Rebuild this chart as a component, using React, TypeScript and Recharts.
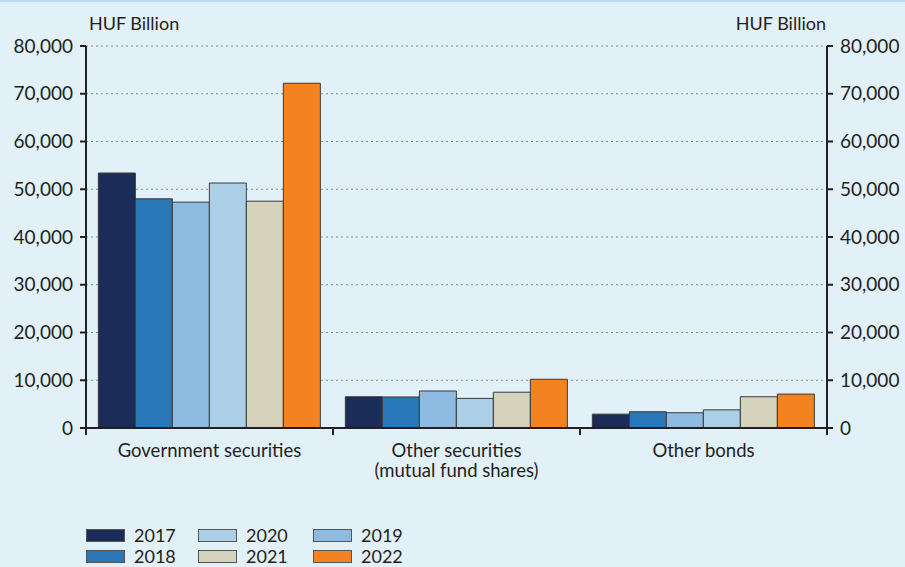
import { BarChart, Bar, XAxis, YAxis, CartesianGrid } from 'recharts'

const categories = ['Government securities', 'Other securities\n(mutual fund shares)', 'Other bonds']
const years = ['2017', '2018', '2019', '2020', '2021', '2022']
const values2017 = [53400, 6550, 2900]
const values2018 = [48000, 6500, 3400]
const values2019 = [47300, 7750, 3200]
const values2020 = [51300, 6200, 3800]
const values2021 = [47500, 7500, 6550]
const values2022 = [72200, 10200, 7100]
const yTicks = [0, 10000, 20000, 30000, 40000, 50000, 60000, 70000, 80000]
const legendOrder = ['2017', '2020', '2019', '2018', '2021', '2022']

const colors: Record<string, string> = {
  '2017': '#1b2c58',
  '2018': '#2878b8',
  '2019': '#8dbbe1',
  '2020': '#abcfe7',
  '2021': '#d5d3bb',
  '2022': '#f38321',
}

const seriesValues: Record<string, number[]> = {
  '2017': values2017,
  '2018': values2018,
  '2019': values2019,
  '2020': values2020,
  '2021': values2021,
  '2022': values2022,
}

const data = categories.map((name, i) => {
  const row: Record<string, string | number> = { name }
  years.forEach((y) => (row[y] = seriesValues[y][i]))
  return row
})

const FONT = 'Lato, "Open Sans", sans-serif'
const INK = '#231f20'
const fmt = (v: number) => v.toLocaleString('en-US')

const CategoryTick = (props: any) => {
  const { x, y, payload, index } = props
  const half = payload?.offset ?? 0
  const lines = String(payload.value).split('\n')
  return (
    <g>
      <line x1={x - half} x2={x - half} y1={y - 8} y2={y - 1} stroke={INK} strokeWidth={2} />
      {index === categories.length - 1 && (
        <line x1={x + half} x2={x + half} y1={y - 8} y2={y - 1} stroke={INK} strokeWidth={2} />
      )}
      {lines.map((l, i) => (
        <text key={i} x={x} y={y + 21 + i * 20} textAnchor="middle" fontSize={18.5} fill={INK} fontFamily={FONT}>
          {l}
        </text>
      ))}
    </g>
  )
}

export default function App() {
  return (
    <div style={{ position: 'absolute', left: 0, top: 0, width: 905, height: 567, background: '#e2f0f8', fontFamily: FONT }}>
      <div style={{ position: 'absolute', left: 0, top: 0, width: 905, height: 2, background: '#b9dcf0' }} />
      <BarChart
        width={905}
        height={567}
        data={data}
        margin={{ top: 46, right: 0, bottom: 109, left: 0 }}
        barCategoryGap="5%"
        barGap={0}
      >
        <CartesianGrid vertical={false} yAxisId="left" stroke="#8a8a8a" strokeDasharray="2 3" />
        <XAxis
          dataKey="name"
          height={30}
          axisLine={{ stroke: INK, strokeWidth: 2 }}
          tickLine={false}
          interval={0}
          tick={<CategoryTick />}
        />
        <YAxis
          yAxisId="left"
          width={86}
          domain={[0, 80000]}
          ticks={yTicks}
          tickFormatter={fmt}
          axisLine={{ stroke: INK, strokeWidth: 2 }}
          tickLine={{ stroke: INK, strokeWidth: 2 }}
          tickSize={6}
          tickMargin={7}
          tick={{ fill: INK, fontSize: 19, fontFamily: FONT }}
        />
        <YAxis
          yAxisId="right"
          orientation="right"
          width={78}
          domain={[0, 80000]}
          ticks={yTicks}
          tickFormatter={fmt}
          axisLine={{ stroke: INK, strokeWidth: 2 }}
          tickLine={{ stroke: INK, strokeWidth: 2 }}
          tickSize={6}
          tickMargin={7}
          tick={{ fill: INK, fontSize: 19, fontFamily: FONT }}
        />
        {years.map((y) => (
          <Bar
            key={y}
            dataKey={y}
            yAxisId={y === '2022' ? 'right' : 'left'}
            fill={colors[y]}
            stroke="#3a3a3a"
            strokeWidth={1}
            isAnimationActive={false}
          />
        ))}
      </BarChart>
      <div style={{ position: 'absolute', left: 89, top: 12, fontSize: 18, color: INK }}>HUF Billion</div>
      <div style={{ position: 'absolute', right: 79, top: 12, fontSize: 18, color: INK }}>HUF Billion</div>
      <div
        style={{
          position: 'absolute',
          left: 86,
          top: 525,
          display: 'grid',
          gridTemplateColumns: '112px 115px 115px',
          rowGap: 1,
        }}
      >
        {legendOrder.map((y) => (
          <div key={y} style={{ display: 'flex', alignItems: 'center', height: 20, lineHeight: '20px', fontSize: 18, color: INK }}>
            <span
              style={{
                display: 'inline-block',
                width: 37,
                height: 11,
                background: colors[y],
                border: '1px solid #555',
                marginRight: 9,
              }}
            />
            {y}
          </div>
        ))}
      </div>
    </div>
  )
}
